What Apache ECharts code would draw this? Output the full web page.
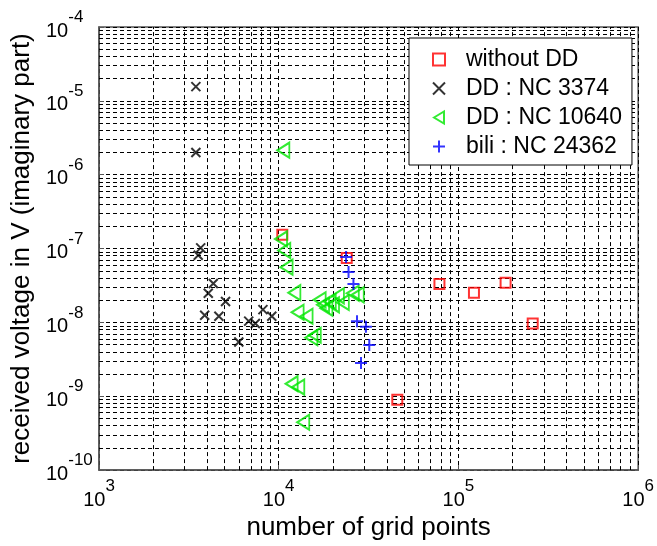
<!DOCTYPE html>
<html><head><meta charset="utf-8">
<script src="https://cdn.jsdelivr.net/npm/echarts@6/dist/echarts.min.js"></script>
<style>html,body{margin:0;padding:0;background:#fff}#c{width:657px;height:546px}</style>
</head><body><div id="c"></div>
<script>
// ---- data (x = number of grid points, y = received voltage) ----
const seriesNames = ['without DD', 'DD : NC 3374', 'DD : NC 10640', 'bili : NC 24362'];
const withoutDD = [[10470,1.54e-7],[23900,7.45e-8],[45700,9.0e-10],[78400,3.3e-8],[122000,2.53e-8],[183000,3.45e-8],[259000,9.7e-9]];
const ddNC3374 = [[3460,1.56e-5],[3460,2.0e-6],[3680,1.02e-7],[3565,8.1e-8],[4325,3.37e-8],[4055,2.48e-8],[5060,1.92e-8],[3873,1.25e-8],[4645,1.21e-8],[5997,5.43e-9],[6808,1.04e-8],[7413,9.66e-9],[8170,1.49e-8],[9150,1.21e-8]];
const ddNC10640 = [[10610,2.15e-6],[10300,1.35e-7],[10740,9.4e-8],[11060,5.6e-8],[12220,2.53e-8],[12740,1.37e-8],[14290,1.21e-8],[15200,6.2e-9],[15870,6.7e-9],[11800,1.48e-9],[12850,1.33e-9],[13690,4.45e-10],[16900,2.02e-8],[17650,1.73e-8],[18420,1.56e-8],[19230,1.92e-8],[20050,1.73e-8],[21350,2.29e-8],[22740,1.86e-8],[25830,2.48e-8],[27530,2.36e-8]];
const biliNC24362 = [[23700,7.7e-8],[24460,4.8e-8],[26050,3.3e-8],[27270,1.04e-8],[30570,8.7e-9],[31910,4.95e-9],[28700,2.82e-9]];
const xRange = [1e3, 1e6];
const yRange = [1e-10, 1e-4];

// minor log grid positions (2..9 x 10^k)
const minorX = [];
for (let k = 3; k < 6; k++) for (let m = 2; m <= 9; m++) minorX.push(m * Math.pow(10, k));
const minorY = [];
for (let k = -10; k < -4; k++) for (let m = 2; m <= 9; m++) minorY.push(m * Math.pow(10, k));

const FONT = '"Liberation Sans", Arial, Helvetica, sans-serif';
const dash = [4, 3];
const hollow = c => ({ color: 'rgba(0,0,0,0)', borderColor: c, borderWidth: 2 });
const SYM_SQ = 'path://M0,0L10,0L10,10L0,10Z';
const SYM_X = 'path://M0,0L10,10M10,0L0,10';
const SYM_PLUS = 'path://M5,0L5,10M0,5L10,5';
const SYM_TRI = 'path://M0,6L10,0L10,12Z';
const colors = ['#ff0000', '#000000', '#00e600', '#0000ff'];
const symbols = [SYM_SQ, SYM_X, SYM_TRI, SYM_PLUS];

const expLabel = v => '{b|10}{s|' + Math.round(Math.log10(v)) + '}';
const richLab = {
  b: { fontSize: 20, lineHeight: 32, verticalAlign: 'bottom', fontFamily: FONT, color: '#000' },
  s: { fontSize: 17, verticalAlign: 'top', fontFamily: FONT, color: '#000' }
};

const gridLineStyle = { type: dash, color: '#000', width: 1 };
const vLines = minorX.map(v => ({ xAxis: v }));
const hLines = minorY.map(v => [{ coord: [xRange[0], v] }, { coord: [xRange[1], v] }]);

const chart = echarts.init(document.getElementById('c'), null, { renderer: 'canvas' });
chart.setOption({
  animation: false,
  backgroundColor: '#fff',
  grid: { left: 99, right: 14, top: 27, bottom: 70, show: true, borderColor: '#555', borderWidth: 1.5, backgroundColor: 'transparent' },
  legend: {
    left: 409, top: 38, orient: 'vertical',
    padding: [10, 10, 7, 23],
    itemWidth: 44, itemHeight: 12, itemGap: 6,
    backgroundColor: '#fff', borderColor: '#000', borderWidth: 1,
    textStyle: { fontSize: 23, lineHeight: 22, fontFamily: FONT, color: '#000' },
    data: seriesNames.map((n, i) => ({ name: n, icon: symbols[i], itemStyle: hollow(colors[i]) }))
  },
  xAxis: {
    type: 'log', logBase: 10, min: xRange[0], max: xRange[1], splitNumber: 3,
    name: 'number of grid points', nameLocation: 'middle', nameGap: 40,
    nameTextStyle: { fontSize: 26, fontFamily: FONT, color: '#000' },
    axisLine: { show: true, lineStyle: { color: '#555', width: 1.5 } },
    axisTick: { show: true, inside: true, length: 5, lineStyle: { color: '#555' } },
    axisLabel: { formatter: expLabel, rich: richLab, margin: 8 },
    splitLine: { show: true, lineStyle: gridLineStyle }
  },
  yAxis: {
    type: 'log', logBase: 10, min: yRange[0], max: yRange[1], splitNumber: 6,
    name: 'received voltage in V (imaginary part)', nameLocation: 'middle', nameGap: 62, nameRotate: 90,
    nameTextStyle: { fontSize: 26, fontFamily: FONT, color: '#000' },
    axisLine: { show: true, lineStyle: { color: '#555', width: 1.5 } },
    axisTick: { show: true, inside: true, length: 5, lineStyle: { color: '#555' } },
    axisLabel: { formatter: expLabel, rich: richLab, margin: 53, align: 'left', padding: [0, 0, 4, 0] },
    splitLine: { show: true, lineStyle: gridLineStyle }
  },
  series: [
    {
      name: 'minor grid', type: 'line', data: [], silent: true,
      markLine: {
        silent: true, symbol: ['none', 'none'], z: 1, animation: false,
        label: { show: false }, emphasis: { disabled: true },
        lineStyle: gridLineStyle,
        data: vLines.concat(hLines)
      }
    },
    { name: seriesNames[0], type: 'scatter', data: withoutDD, symbol: symbols[0], symbolSize: 10, itemStyle: hollow(colors[0]), z: 3 },
    { name: seriesNames[1], type: 'scatter', data: ddNC3374, symbol: symbols[1], symbolSize: 9, itemStyle: hollow(colors[1]), z: 3 },
    { name: seriesNames[2], type: 'scatter', data: ddNC10640, symbol: symbols[2], symbolSize: [12, 15], itemStyle: hollow(colors[2]), z: 3 },
    { name: seriesNames[3], type: 'scatter', data: biliNC24362, symbol: symbols[3], symbolSize: 12, itemStyle: hollow(colors[3]), z: 3 }
  ]
});
</script></body></html>
